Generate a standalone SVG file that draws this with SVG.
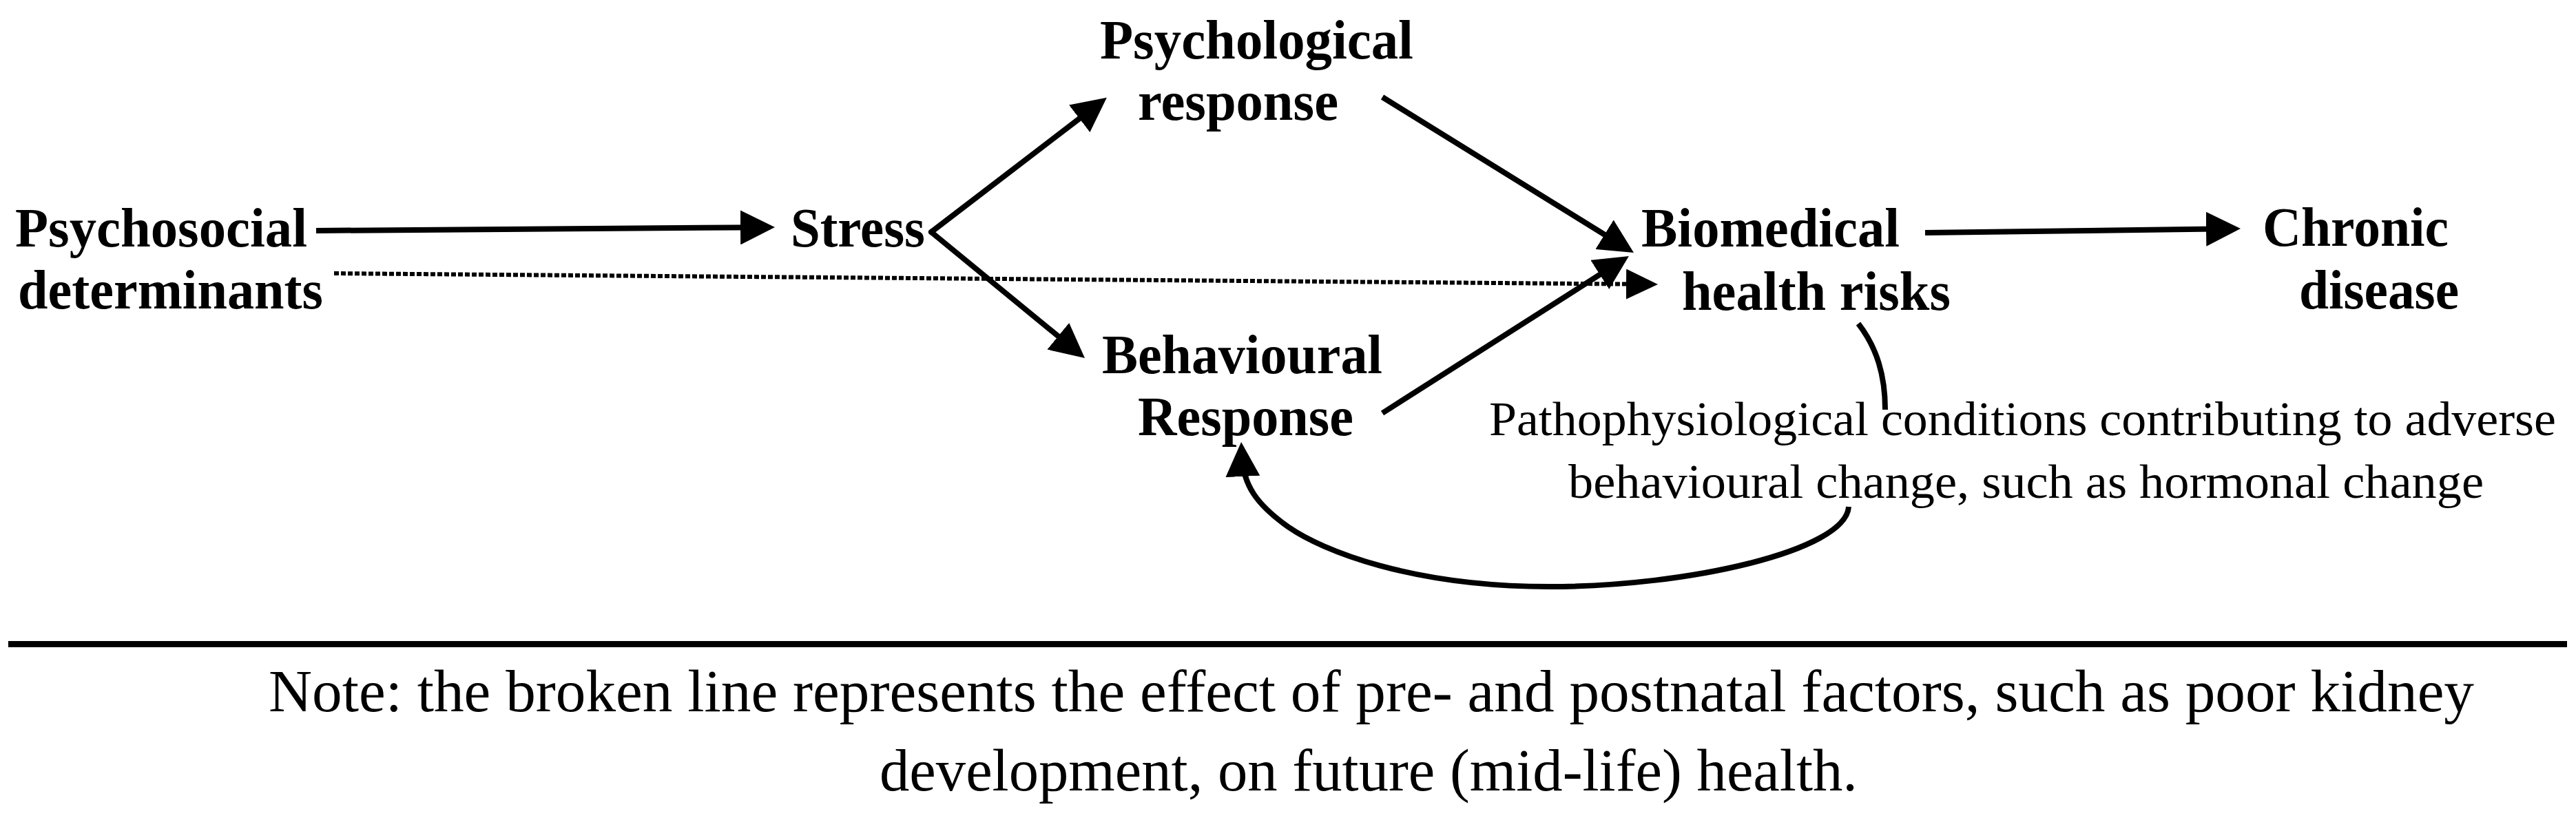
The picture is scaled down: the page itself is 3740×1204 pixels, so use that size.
<svg xmlns="http://www.w3.org/2000/svg" width="3740" height="1204" viewBox="0 0 3740 1204">
<style>
.lb{font-family:"Liberation Serif","Times New Roman",serif;font-weight:bold;font-size:80px;fill:#000}
.rg{font-family:"Liberation Serif","Times New Roman",serif;font-size:70px;fill:#000}
.nt{font-family:"Liberation Serif","Times New Roman",serif;font-size:86px;fill:#000}
.ln{stroke:#000;stroke-width:8;fill:none}
.dt{stroke:#000;stroke-width:6;fill:none;stroke-dasharray:7 3}
</style>
<defs>
<marker id="ah" markerUnits="userSpaceOnUse" markerWidth="50" markerHeight="50" viewBox="0 0 50 50" refX="30" refY="25" orient="auto">
<path d="M0,0 L50,25 L0,50 z" fill="#000"/>
</marker>
<marker id="ahs" markerUnits="userSpaceOnUse" markerWidth="46" markerHeight="44" viewBox="0 0 46 44" refX="26" refY="22" orient="auto">
<path d="M0,0 L46,22 L0,44 z" fill="#000"/>
</marker>
</defs>
<rect x="0" y="0" width="3740" height="1204" fill="#fff"/>
<g id="connectors">
<line class="ln" x1="459" y1="335" x2="1105" y2="330.2" marker-end="url(#ah)"/>
<line class="ln" x1="1352" y1="337" x2="1591" y2="154" stroke-linecap="round" marker-end="url(#ah)"/>
<line class="ln" x1="1352" y1="337" x2="1559.5" y2="507.3" stroke-linecap="round" marker-end="url(#ah)"/>
<line class="ln" x1="2007" y1="141" x2="2355" y2="356.5" stroke-width="7" marker-end="url(#ah)"/>
<line class="ln" x1="2007" y1="600" x2="2348" y2="382.7" stroke-width="7" marker-end="url(#ah)"/>
<line class="dt" x1="485" y1="397" x2="2387" y2="412.8" marker-end="url(#ahs)"/>
<line class="ln" x1="2795" y1="338" x2="3233" y2="332.3" marker-end="url(#ah)"/>
<path class="ln" stroke-width="7" d="M2698,470 C2725,505 2737,545 2737,595 M2684,736 C2680,800 2450,852 2250,852 C2050,852 1920,800 1870,765 C1825,733 1805,705 1803,662" marker-end="url(#ah)"/>
<line x1="12" y1="935.5" x2="3727" y2="935.5" stroke="#000" stroke-width="9"/>
</g>
<g id="psychosocial">
<text class="lb" x="22" y="358" textLength="424" lengthAdjust="spacingAndGlyphs">Psychosocial</text>
<text class="lb" x="26" y="448" textLength="443" lengthAdjust="spacingAndGlyphs">determinants</text>
</g>
<g id="stress">
<text class="lb" x="1148" y="358" textLength="195" lengthAdjust="spacingAndGlyphs">Stress</text>
</g>
<g id="psychological">
<text class="lb" x="1597" y="85" textLength="455" lengthAdjust="spacingAndGlyphs">Psychological</text>
<text class="lb" x="1652" y="174" textLength="291" lengthAdjust="spacingAndGlyphs">response</text>
</g>
<g id="behavioural">
<text class="lb" x="1600" y="542" textLength="407" lengthAdjust="spacingAndGlyphs">Behavioural</text>
<text class="lb" x="1652" y="632" textLength="313" lengthAdjust="spacingAndGlyphs">Response</text>
</g>
<g id="biomedical">
<text class="lb" x="2383" y="358" textLength="375" lengthAdjust="spacingAndGlyphs">Biomedical</text>
<text class="lb" x="2442" y="450" textLength="390" lengthAdjust="spacingAndGlyphs">health risks</text>
</g>
<g id="chronic">
<text class="lb" x="3285" y="357" textLength="270" lengthAdjust="spacingAndGlyphs">Chronic</text>
<text class="lb" x="3338" y="448" textLength="232" lengthAdjust="spacingAndGlyphs">disease</text>
</g>
<g id="pathophysiological">
<text class="rg" x="2162" y="632" textLength="1549" lengthAdjust="spacingAndGlyphs">Pathophysiological conditions contributing to adverse</text>
<text class="rg" x="2277" y="723" textLength="1329" lengthAdjust="spacingAndGlyphs">behavioural change, such as hormonal change</text>
</g>
<g id="note">
<text class="nt" x="390" y="1033" textLength="3202" lengthAdjust="spacingAndGlyphs">Note: the broken line represents the effect of pre- and postnatal factors, such as poor kidney</text>
<text class="nt" x="1277" y="1148" textLength="1420" lengthAdjust="spacingAndGlyphs">development, on future (mid-life) health.</text>
</g>
</svg>
